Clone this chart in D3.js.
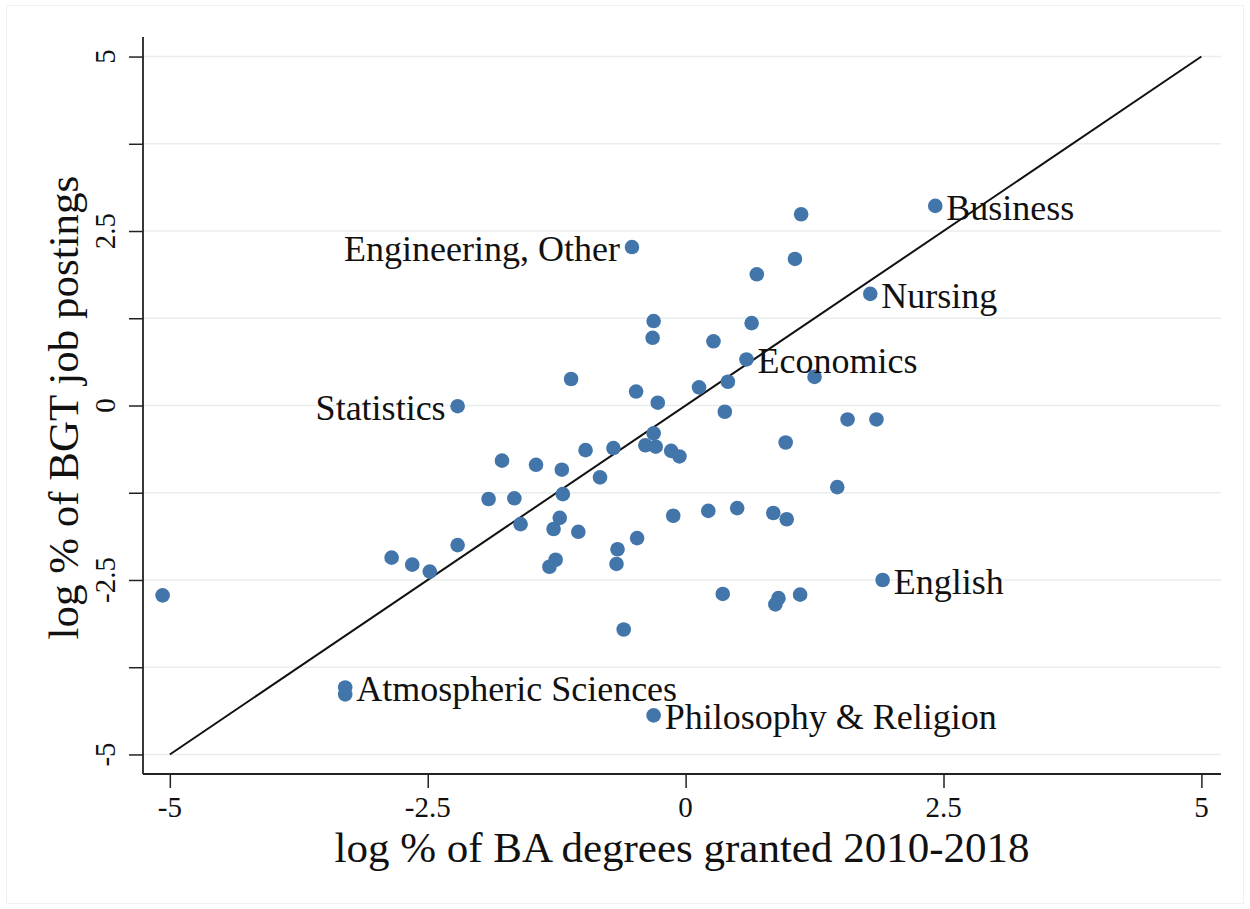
<!DOCTYPE html>
<html>
<head>
<meta charset="utf-8">
<script src="https://cdn.jsdelivr.net/npm/d3@7"></script>
<style>
  body { margin: 0; background: #fff; }
  svg text { font-family: "Liberation Serif", "Times New Roman", serif; fill: #111; }
</style>
</head>
<body>
<div id="graph"></div>
<script>
// log % of BA degrees (x) vs log % of BGT job postings (y), one point per field
var degX = [
  -5.07, -3.30, -3.30, -2.85, -2.65, -2.48, -2.21, -2.21, -1.91, -1.78,
  -1.66, -1.60, -1.45, -1.32, -1.28, -1.26, -1.22, -1.20, -1.19, -1.11,
  -1.04, -0.97, -0.83, -0.70, -0.66, -0.67, -0.60, -0.52, -0.48, -0.47,
  -0.39, -0.32, -0.31, -0.31, -0.31, -0.29, -0.27, -0.14, -0.12, -0.06,
  0.13, 0.22, 0.27, 0.36, 0.38, 0.41, 0.50, 0.59, 0.64, 0.69,
  0.85, 0.87, 0.90, 0.97, 0.98, 1.06, 1.11, 1.12, 1.25, 1.47,
  1.57, 1.79, 1.85, 1.91, 2.42
];
var postY = [
  -2.72, -4.04, -4.14, -2.18, -2.28, -2.38, -2.00, -0.01, -1.34, -0.79,
  -1.33, -1.70, -0.85, -2.31, -1.77, -2.21, -1.61, -0.92, -1.27, 0.38,
  -1.81, -0.64, -1.03, -0.61, -2.06, -2.27, -3.21, 2.27, 0.20, -1.90,
  -0.57, 0.97, 1.21, -0.40, -4.44, -0.59, 0.04, -0.65, -1.58, -0.73,
  0.26, -1.51, 0.92, -2.70, -0.09, 0.34, -1.47, 0.66, 1.18, 1.88,
  -1.54, -2.85, -2.76, -0.53, -1.63, 2.10, -2.71, 2.74, 0.41, -1.17,
  -0.20, 1.60, -0.20, -2.50, 2.86
];
// labelled fields: name, index of its point, side of the label
var labelNames = ["Business", "Engineering, Other", "Nursing", "Economics", "Statistics",
                  "English", "Atmospheric Sciences", "Philosophy & Religion"];
var labelIdx = [64, 27, 61, 47, 7, 63, 1, 34];
var labelSide = ["right", "left", "right", "right", "left", "right", "right", "right"];

var yTicks = [-5, -3.75, -2.5, -1.25, 0, 1.25, 2.5, 3.75, 5];
var yTickLabels = [-5, -2.5, 0, 2.5, 5];
var xTicks = [-5, -2.5, 0, 2.5, 5];
var diag = [-5, 5];

var W = 1250, H = 909;
var margin = { top: 37, right: 29, bottom: 135, left: 143 };
var width = W - margin.left - margin.right,
  height = H - margin.top - margin.bottom;

var svg = d3.select("#graph").append("svg")
  .attr("width", W).attr("height", H);

// faint outer frame of the graph region
svg.append("rect")
  .attr("x", 6.5).attr("y", 5.5).attr("width", W - 13).attr("height", H - 11)
  .attr("fill", "none").attr("stroke", "#f1f1f1").attr("stroke-width", 1);

var g = svg.append("g")
  .attr("transform", "translate(" + margin.left + "," + margin.top + ")");

var x = d3.scaleLinear().domain([-5.26, 5.19]).range([0, width]);
var y = d3.scaleLinear().domain([-5.28, 5.28]).range([height, 0]);

// gridlines
g.append("g").attr("class", "grid")
  .selectAll("line").data(yTicks).enter().append("line")
  .attr("x1", 0).attr("x2", width)
  .attr("y1", function (d) { return y(d); })
  .attr("y2", function (d) { return y(d); })
  .attr("stroke", "#e8eeee").attr("stroke-width", 1.5);

// y axis
var yAxis = g.append("g")
  .call(d3.axisLeft(y).tickValues(yTicks).tickSize(14).tickFormat(""));
yAxis.select(".domain").attr("d", "M0," + y(5.28) + "V" + height);
yAxis.selectAll("line").attr("stroke", "#222").attr("stroke-width", 1.5);
yAxis.select(".domain").attr("stroke", "#222").attr("stroke-width", 1.8);

g.append("g").selectAll("text").data(yTickLabels).enter().append("text")
  .attr("transform", function (d) { return "translate(-28," + y(d) + ") rotate(-90)"; })
  .attr("text-anchor", "middle")
  .style("font-size", "29px")
  .text(function (d) { return d; });

// x axis
var xAxis = g.append("g")
  .attr("transform", "translate(0," + height + ")")
  .call(d3.axisBottom(x).tickValues(xTicks).tickSize(14).tickFormat(""));
xAxis.select(".domain").attr("d", "M0,0H" + width);
xAxis.selectAll("line").attr("stroke", "#222").attr("stroke-width", 1.5);
xAxis.select(".domain").attr("stroke", "#222").attr("stroke-width", 1.8);

g.append("g").selectAll("text").data(xTicks).enter().append("text")
  .attr("x", function (d) { return x(d); })
  .attr("y", height + 43)
  .attr("text-anchor", "middle")
  .style("font-size", "29px")
  .text(function (d) { return d; });

// axis titles
svg.append("text")
  .attr("x", 682)
  .attr("y", 862)
  .attr("text-anchor", "middle")
  .style("font-size", "43px")
  .text("log % of BA degrees granted 2010-2018");

svg.append("text")
  .attr("transform", "translate(78," + (margin.top + y(-0.03)) + ") rotate(-90)")
  .attr("text-anchor", "middle")
  .style("font-size", "43px")
  .text("log % of BGT job postings");

// 45 degree line
g.append("line")
  .attr("x1", x(diag[0])).attr("y1", y(diag[0]))
  .attr("x2", x(diag[1])).attr("y2", y(diag[1]))
  .attr("stroke", "#111").attr("stroke-width", 2);

// points
var pts = degX.map(function (d, i) { return { x: d, y: postY[i] }; });
g.append("g").selectAll("circle").data(pts).enter().append("circle")
  .attr("cx", function (d) { return x(d.x); })
  .attr("cy", function (d) { return y(d.y); })
  .attr("r", 7.3)
  .attr("fill", "#4276aa");

// labels
g.append("g").selectAll("text").data(labelNames).enter().append("text")
  .attr("x", function (d, i) {
    var p = pts[labelIdx[i]];
    return x(p.x) + (labelSide[i] === "right" ? 11 : -12);
  })
  .attr("y", function (d, i) { return y(pts[labelIdx[i]].y) + 14; })
  .attr("text-anchor", function (d, i) { return labelSide[i] === "right" ? "start" : "end"; })
  .style("font-size", "36px")
  .text(function (d) { return d; });
</script>
</body>
</html>
